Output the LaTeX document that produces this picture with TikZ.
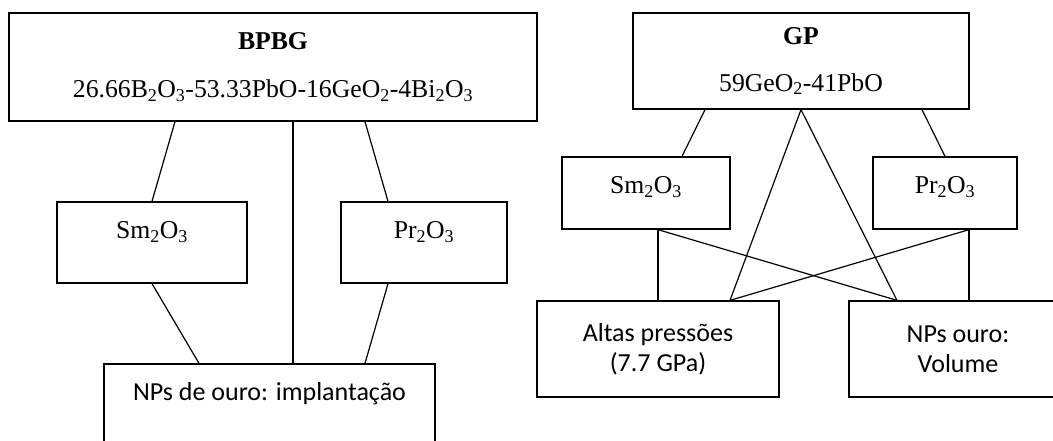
\documentclass[tikz,border=0pt]{standalone}
\usepackage{fontspec}
\setmainfont{Liberation Serif}
\newfontfamily\calibri{Carlito}
\usepackage{tikz}
\usetikzlibrary{positioning}
\newcommand{\low}[1]{\textsubscript{#1}}

\begin{document}
\begin{tikzpicture}[x=1pt,y=-1pt,
    serif/.style={font=\fontsize{25.7}{30}\selectfont},
    sans/.style={font=\fontsize{26}{30}\calibri},
    box/.style={draw,line width=1.3pt,inner sep=0pt},
    link/.style={line width=1.2pt}]
      \useasboundingbox (0,0) rectangle (1053,440);
      \node[box,serif,align=center,
            minimum width=528pt,minimum height=108pt] (bpbg) at (273,67) {
        \textbf{BPBG}\\[18pt]
        26.66B\low{2}O\low{3}-53.33PbO-16GeO\low{2}-4Bi\low{2}O\low{3}
      };
      \node[box,serif,minimum width=190pt,minimum height=81pt,
            text height=17pt,text depth=25pt] (lsm) at (152,242.5) {Sm\low{2}O\low{3}};
      \node[box,serif,minimum width=166pt,minimum height=81pt,
            text height=17pt,text depth=25pt] (lpr) at (424,242.5) {Pr\low{2}O\low{3}};
      \node[box,sans,minimum width=331pt,minimum height=88pt,
            text height=17pt,text depth=32pt] (limp) at (269.5,408) {NPs de ouro: implantação};
      \draw[link] ([xshift=-98pt]bpbg.south) -- (lsm.north);
      \draw[link] ([xshift=20pt]bpbg.south) -- ([xshift=23.5pt]limp.north);
      \draw[link] ([xshift=92pt]bpbg.south) -- ([xshift=-36pt]lpr.north);
      \draw[link] (lsm.south) -- ([xshift=-70.5pt]limp.north);
      \draw[link] ([xshift=-36pt]lpr.south) -- ([xshift=95.5pt]limp.north);
      \node[box,serif,align=center,
            minimum width=336pt,minimum height=96pt] (gp) at (801,61) {
        \textbf{GP}\\[17pt]
        59GeO\low{2}-41PbO
      };
      \node[box,serif,minimum width=168pt,minimum height=72pt,
            text height=17pt,text depth=16pt] (rsm) at (646,193) {Sm\low{2}O\low{3}};
      \node[box,serif,minimum width=144pt,minimum height=72pt,
            text height=17pt,text depth=16pt] (rpr) at (945,193) {Pr\low{2}O\low{3}};
      \node[box,sans,align=center,
            minimum width=242pt,minimum height=96pt] (alta) at (658,349) {Altas pressões\\(7.7 GPa)};
      \node[box,sans,align=center,
            minimum width=218pt,minimum height=96pt] (vol) at (958,349) {NPs ouro:\\Volume};
      \draw[link] ([xshift=-96pt]gp.south) -- ([xshift=36pt]rsm.north);
      \draw[link] ([xshift=121pt]gp.south) -- (rpr.north);
      \draw[link] (gp.south) -- ([xshift=72pt]alta.north);
      \draw[link] (gp.south) -- ([xshift=-61pt]vol.north);
      \draw[link] ([xshift=12pt]rsm.south) -- (alta.north);
      \draw[link] ([xshift=12pt]rsm.south) -- ([xshift=-61pt]vol.north);
      \draw[link] ([xshift=24pt]rpr.south) -- ([xshift=11pt]vol.north);
      \draw[link] ([xshift=24pt]rpr.south) -- ([xshift=72pt]alta.north);
    \end{tikzpicture}
\end{document}
